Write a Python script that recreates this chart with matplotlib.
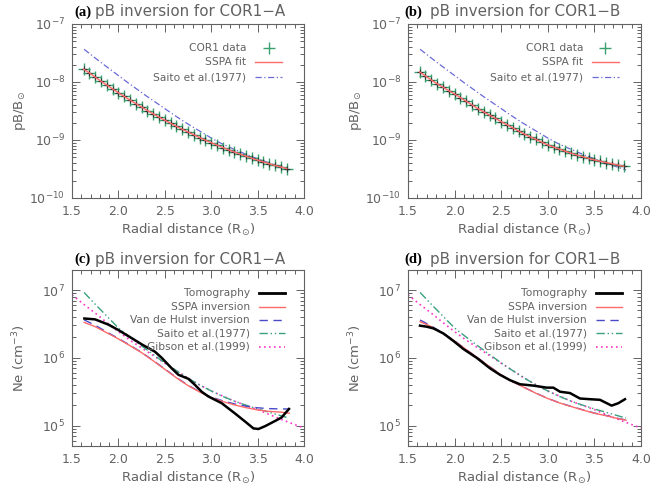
import matplotlib
matplotlib.use("Agg")
import matplotlib.pyplot as plt
from matplotlib.ticker import MultipleLocator, LogLocator, LogFormatterSciNotation, NullFormatter

# ---------------- top row: pB (COR1 data, SSPA fit, Saito) ----------------
r_cor1 = [1.625, 1.6875, 1.75, 1.8125, 1.875, 1.9375, 2.0, 2.0625, 2.125, 2.1875,
          2.25, 2.3125, 2.375, 2.4375, 2.5, 2.5625, 2.625, 2.6875, 2.75, 2.8125,
          2.875, 2.9375, 3.0, 3.0625, 3.125, 3.1875, 3.25, 3.3125, 3.375, 3.4375,
          3.5, 3.5625, 3.625, 3.6875, 3.75, 3.8125]
pb_cor1_a = [1.66e-8, 1.43e-8, 1.21e-8, 1.03e-8, 8.83e-9, 7.59e-9, 6.52e-9, 5.62e-9,
             4.88e-9, 4.24e-9, 3.69e-9, 3.22e-9, 2.82e-9, 2.48e-9, 2.19e-9, 1.94e-9,
             1.72e-9, 1.53e-9, 1.37e-9, 1.23e-9, 1.10e-9, 9.93e-10, 8.99e-10, 8.15e-10,
             7.41e-10, 6.76e-10, 6.19e-10, 5.69e-10, 5.25e-10, 4.84e-10, 4.49e-10,
             4.18e-10, 3.89e-10, 3.64e-10, 3.42e-10, 3.22e-10]
pb_cor1_b = [1.49e-8, 1.27e-8, 1.08e-8, 9.29e-9, 8.13e-9, 7.10e-9, 6.21e-9, 5.37e-9,
             4.65e-9, 4.02e-9, 3.47e-9, 3.05e-9, 2.68e-9, 2.36e-9, 2.07e-9, 1.83e-9,
             1.61e-9, 1.43e-9, 1.26e-9, 1.13e-9, 1.02e-9, 9.12e-10, 8.20e-10, 7.55e-10,
             6.95e-10, 6.40e-10, 5.89e-10, 5.51e-10, 5.15e-10, 4.83e-10, 4.52e-10,
             4.30e-10, 4.08e-10, 3.89e-10, 3.70e-10, 3.52e-10]

r_saito_pb = [1.63, 1.7, 1.8, 1.9, 2.0, 2.1, 2.2, 2.3, 2.4, 2.5, 2.6, 2.7, 2.8, 2.9,
              3.0, 3.1, 3.2, 3.3, 3.4, 3.5, 3.6, 3.7, 3.8, 3.84]
pb_saito = [3.66e-8, 2.99e-8, 2.24e-8, 1.70e-8, 1.29e-8, 9.77e-9, 7.50e-9, 5.75e-9,
            4.47e-9, 3.47e-9, 2.69e-9, 2.11e-9, 1.68e-9, 1.35e-9, 1.08e-9, 8.85e-10,
            7.45e-10, 6.38e-10, 5.45e-10, 4.75e-10, 4.15e-10, 3.62e-10, 3.20e-10, 3.02e-10]

# ---------------- bottom row: Ne ----------------
r_tomo_c = [1.633, 1.748, 1.892, 1.999, 2.143, 2.251, 2.394, 2.466, 2.574, 2.646,
            2.754, 2.825, 2.897, 2.969, 3.113, 3.256, 3.364, 3.454, 3.508, 3.580,
            3.688, 3.759, 3.795, 3.838]
ne_tomo_c = [3.80e6, 3.69e6, 3.09e6, 2.57e6, 1.95e6, 1.58e6, 1.23e6, 1.00e6, 7.0e5,
             5.62e5, 4.90e5, 3.98e5, 3.16e5, 2.69e5, 2.14e5, 1.51e5, 1.15e5, 9.1e4,
             8.9e4, 9.8e4, 1.17e5, 1.32e5, 1.51e5, 1.76e5]

r_tomo_d = [1.629, 1.70, 1.772, 1.879, 1.986, 2.094, 2.237, 2.38, 2.487, 2.594, 2.702,
            2.845, 2.988, 3.059, 3.131, 3.238, 3.345, 3.453, 3.56, 3.685, 3.757, 3.828]
ne_tomo_d = [2.98e6, 2.88e6, 2.72e6, 2.29e6, 1.78e6, 1.35e6, 1.0e6, 7.0e5, 5.62e5,
             4.68e5, 4.07e5, 3.89e5, 3.63e5, 3.63e5, 3.16e5, 3.02e5, 2.51e5, 2.45e5,
             2.40e5, 1.97e5, 2.14e5, 2.45e5]

r_inv = [1.63, 1.75, 1.875, 2.0, 2.125, 2.25, 2.375, 2.5, 2.625, 2.75, 2.875, 3.0,
         3.125, 3.25, 3.375, 3.5, 3.625, 3.75, 3.84]
ne_sspa_c = [3.33e6, 2.88e6, 2.34e6, 1.90e6, 1.51e6, 1.19e6, 9.02e5, 6.76e5, 5.07e5,
             3.89e5, 3.13e5, 2.59e5, 2.26e5, 2.02e5, 1.84e5, 1.70e5, 1.62e5, 1.58e5, 1.52e5]
ne_vdh_c = [3.63e6, 3.02e6, 2.40e6, 1.93e6, 1.53e6, 1.20e6, 9.12e5, 6.84e5, 5.13e5,
            3.94e5, 3.16e5, 2.63e5, 2.32e5, 2.09e5, 1.93e5, 1.83e5, 1.78e5, 1.76e5, 1.76e5]
ne_sspa_d = [3.41e6, 2.88e6, 2.29e6, 1.77e6, 1.32e6, 9.89e5, 7.41e5, 5.58e5, 4.42e5,
             3.63e5, 2.99e5, 2.51e5, 2.16e5, 1.91e5, 1.70e5, 1.52e5, 1.40e5, 1.27e5, 1.20e5]
ne_vdh_d = [3.61e6, 2.95e6, 2.32e6, 1.78e6, 1.32e6, 9.95e5, 7.45e5, 5.60e5, 4.43e5,
            3.64e5, 3.00e5, 2.52e5, 2.17e5, 1.92e5, 1.71e5, 1.53e5, 1.41e5, 1.28e5, 1.21e5]

r_saito_ne = [1.63, 1.75, 1.875, 2.0, 2.125, 2.25, 2.375, 2.5, 2.625, 2.75, 2.875,
              3.0, 3.125, 3.25, 3.375, 3.5, 3.625, 3.75, 3.84]
ne_saito = [9.20e6, 6.17e6, 4.12e6, 2.75e6, 2.02e6, 1.50e6, 1.12e6, 8.41e5, 6.46e5,
            5.01e5, 3.98e5, 3.24e5, 2.69e5, 2.29e5, 2.00e5, 1.76e5, 1.57e5, 1.40e5, 1.29e5]

r_gibson = [1.5, 1.625, 1.75, 1.875, 2.0, 2.125, 2.25, 2.375, 2.5, 2.625, 2.75, 2.875,
            3.0, 3.25, 3.5, 3.75, 4.0]
ne_gibson = [8.51e6, 6.17e6, 4.57e6, 3.31e6, 2.43e6, 1.82e6, 1.40e6, 1.08e6, 8.32e5,
             6.46e5, 5.01e5, 3.98e5, 3.24e5, 2.29e5, 1.72e5, 1.24e5, 9.2e4]

xticks = [1.5, 2.0, 2.5, 3.0, 3.5, 4.0]

TXT = "#626262"
GREEN = "#3aa070"
RED = "#ff6a6a"
BLUE = "#6a6ad8"
VDH = "#4a4ac8"
SGREEN = "#3aa080"
PINK = "#ff33cc"

plt.rcParams["font.family"] = ["DejaVu Sans"]

fig = plt.figure(figsize=(6.65, 4.92), dpi=100)
ax_a = fig.add_axes([0.1083, 0.5976, 0.3489, 0.3537])
ax_b = fig.add_axes([0.6135, 0.5976, 0.3504, 0.3537])
ax_c = fig.add_axes([0.1083, 0.0935, 0.3489, 0.3585])
ax_d = fig.add_axes([0.6135, 0.0935, 0.3504, 0.3585])


def style(ax, ylim, ylabel):
    ax.set_yscale("log")
    ax.set_xlim(1.5, 4.0)
    ax.set_ylim(*ylim)
    ax.set_xticks(xticks)
    ax.set_xticklabels([f"{t:.1f}" for t in xticks])
    ax.xaxis.set_minor_locator(MultipleLocator(0.1))
    ax.yaxis.set_major_locator(LogLocator(base=10))
    ax.yaxis.set_major_formatter(LogFormatterSciNotation())
    ax.yaxis.set_minor_locator(LogLocator(base=10, subs=range(2, 10)))
    ax.yaxis.set_minor_formatter(NullFormatter())
    ax.tick_params(which="both", direction="in", top=True, right=True,
                   color=TXT, labelcolor=TXT, labelsize=9, width=0.7)
    ax.tick_params(which="major", length=6, pad=5)
    ax.tick_params(which="minor", length=3)
    for s in ax.spines.values():
        s.set_color(TXT)
        s.set_linewidth(0.8)
    ax.set_xlabel(r"Radial distance (R$_{\odot}$)", color=TXT, fontsize=9.5, labelpad=3)
    ax.set_ylabel(ylabel, color=TXT, fontsize=9.5)
    ax.yaxis.set_label_coords(-0.19, 0.5)


def title(ax, tag, text, xtag, xtxt, y):
    ax.text(xtag, y, tag, transform=ax.transAxes, family="Liberation Serif",
            fontweight="bold", fontsize=10.5, color="k", va="center", ha="left")
    ax.text(xtxt, y, text, transform=ax.transAxes, fontsize=10.9, color=TXT,
            va="center", ha="left")


def legend(ax, rows, xtext, x0, x1, ys, size):
    for (label, kw), y in zip(rows, ys):
        ax.text(xtext, y, label, transform=ax.transAxes, ha="right", va="center",
                fontsize=size, color=TXT)
        if kw.get("marker"):
            ax.plot([(x0 + x1) / 2], [y], transform=ax.transAxes, linestyle="none",
                    clip_on=False, **kw)
        else:
            ax.plot([x0, x1], [y, y], transform=ax.transAxes, clip_on=False, **kw)


top_rows = [("COR1 data", dict(marker="+", color=GREEN, markersize=8, mew=1.0)),
            ("SSPA fit", dict(color=RED, lw=1.0)),
            ("Saito et al.(1977)", dict(color=BLUE, lw=0.9, dashes=(5, 2, 1, 2)))]

for ax, pb, tag, name, xtag, xtxt in [(ax_a, pb_cor1_a, "(a)", "COR1\u2212A", 0.01, 0.099),
                                      (ax_b, pb_cor1_b, "(b)", "COR1\u2212B", -0.017, 0.094)]:
    style(ax, (1e-10, 1e-7), r"pB/B$_{\odot}$")
    ax.plot(r_saito_pb, pb_saito, color=BLUE, lw=0.9, dashes=(5, 2, 1, 2))
    ax.plot(r_cor1, pb, linestyle="none", marker="+", color=GREEN, markersize=8, mew=1.0)
    ax.plot(r_cor1, pb, linestyle="none", marker="+", color="#333333", markersize=4, mew=0.8)
    ax.plot(r_cor1, pb, color=RED, lw=1.0)
    title(ax, tag, "pB inversion for " + name, xtag, xtxt, 1.069)
    legend(ax, top_rows, 0.752, 0.79, 0.905, [0.862, 0.782, 0.695], 7.7)

bottom_rows = [("Tomography", dict(color="k", lw=2.0)),
               ("SSPA inversion", dict(color=RED, lw=1.0)),
               ("Van de Hulst inversion", dict(color=VDH, lw=1.0, dashes=(6, 4))),
               ("Saito et al.(1977)", dict(color=SGREEN, lw=1.0, dashes=(6, 2, 1, 2, 1, 2))),
               ("Gibson et al.(1999)", dict(color=PINK, lw=1.2, dashes=(1, 2)))]

for ax, rt, nt, ns, nv, tag, name, xtag, xtxt in [
        (ax_c, r_tomo_c, ne_tomo_c, ne_sspa_c, ne_vdh_c, "(c)", "COR1\u2212A", 0.01, 0.099),
        (ax_d, r_tomo_d, ne_tomo_d, ne_sspa_d, ne_vdh_d, "(d)", "COR1\u2212B", -0.017, 0.094)]:
    style(ax, (5e4, 2e7), r"Ne (cm$^{-3}$)")
    ax.plot(r_gibson, ne_gibson, color=PINK, lw=1.2, dashes=(1, 2))
    ax.plot(r_saito_ne, ne_saito, color=SGREEN, lw=1.0, dashes=(6, 2, 1, 2, 1, 2))
    ax.plot(r_inv, nv, color=VDH, lw=1.0, dashes=(6, 4))
    ax.plot(r_inv, ns, color=RED, lw=1.0)
    ax.plot(rt, nt, color="k", lw=1.8)
    title(ax, tag, "pB inversion for " + name, xtag, xtxt, 1.06)
    legend(ax, bottom_rows, 0.767, 0.805, 0.918, [0.869, 0.790, 0.714, 0.639, 0.563], 7.7)

fig.savefig("out.png", dpi=100)
